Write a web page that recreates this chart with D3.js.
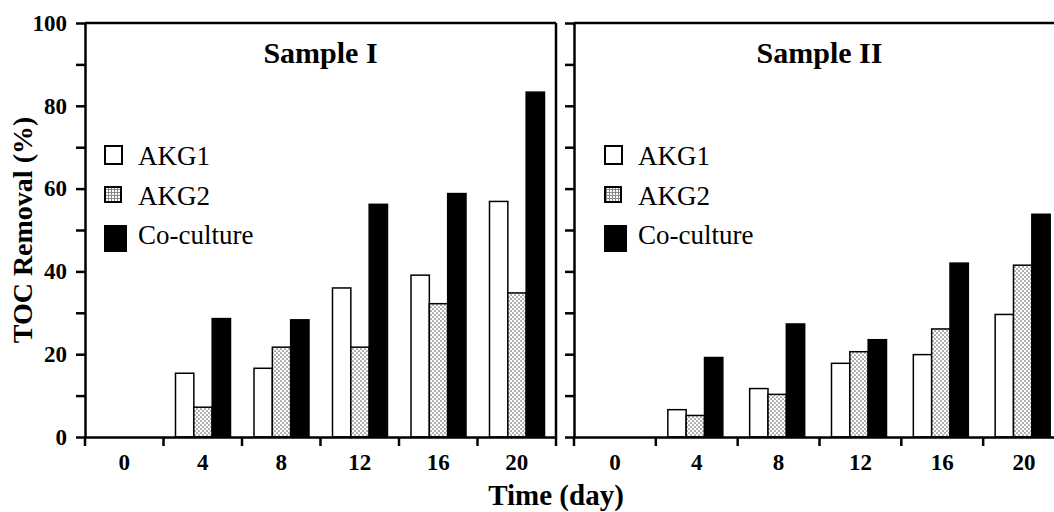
<!DOCTYPE html>
<html>
<head>
<meta charset="utf-8">
<script src="https://cdn.jsdelivr.net/npm/d3@7"></script>
<style>
  body { margin: 0; background: #fff; }
  svg { display: block; font-family: "Liberation Serif", "Times New Roman", serif; }
</style>
</head>
<body>
<script>
// values (TOC removal, %)
var days = ["0", "4", "8", "12", "16", "20"];
var seriesNames = ["AKG1", "AKG2", "Co-culture"];

var sample1Akg1 = [0, 15.4, 16.6, 36.0, 39.1, 56.9];
var sample1Akg2 = [0, 7.2, 21.7, 21.7, 32.2, 34.8];
var sample1Coculture = [0, 28.6, 28.3, 56.2, 58.8, 83.3];

var sample2Akg1 = [0, 6.6, 11.7, 17.8, 19.9, 29.6];
var sample2Akg2 = [0, 5.2, 10.3, 20.6, 26.1, 41.5];
var sample2Coculture = [0, 19.2, 27.3, 23.5, 42.0, 53.8];

var yTicks = [0, 10, 20, 30, 40, 50, 60, 70, 80, 90, 100];
var yLabelTicks = [0, 20, 40, 60, 80, 100];

var width = 1054;
var height = 512;
var serif = "'Liberation Serif', 'Times New Roman', serif";

var svg = d3.select("body")
  .append("svg")
  .attr("width", width)
  .attr("height", height);

var defs = svg.append("defs");

// dotted fill for the AKG2 bars
var dots = defs.append("pattern")
  .attr("id", "dots")
  .attr("width", 4)
  .attr("height", 4)
  .attr("patternUnits", "userSpaceOnUse");
dots.append("rect").attr("width", 4).attr("height", 4).attr("fill", "#fff");
dots.append("circle").attr("cx", 1).attr("cy", 1).attr("r", 0.85).attr("fill", "#666");
dots.append("circle").attr("cx", 3).attr("cy", 3).attr("r", 0.85).attr("fill", "#666");

// grid fill for the AKG2 legend box
var grid = defs.append("pattern")
  .attr("id", "grid")
  .attr("width", 3)
  .attr("height", 3)
  .attr("patternUnits", "userSpaceOnUse");
grid.append("rect").attr("width", 3).attr("height", 3).attr("fill", "#fff");
grid.append("path").attr("d", "M0,0.5H3M0.5,0V3").attr("stroke", "#888").attr("stroke-width", 1);

var fills = ["#fff", "url(#dots)", "#000"];
var legendFills = ["#fff", "url(#grid)", "#000"];

var yScale = d3.scaleLinear()
  .domain([0, 100])
  .range([437, 23]);

var panels = [
  {
    title: "Sample I",
    left: 85, right: 556,
    values: [sample1Akg1, sample1Akg2, sample1Coculture],
    legendX: 105,
    showLabels: true,
    frameRight: true
  },
  {
    title: "Sample II",
    left: 574, right: 1065,
    values: [sample2Akg1, sample2Akg2, sample2Coculture],
    legendX: 605,
    showLabels: false,
    frameRight: false
  }
];

// legend box geometry (they are not all the same size in the original)
var legendBoxes = [
  { y: 146, w: 17, h: 18, text: 165 },
  { y: 187, w: 16, h: 15, text: 205 },
  { y: 226, w: 21, h: 25, text: 244 }
];

panels.forEach(function(p) {
  var g = svg.append("g");

  var xScale = d3.scaleBand()
    .domain(days)
    .range([p.left, p.right]);

  var xInner = d3.scaleBand()
    .domain(seriesNames)
    .range([12, 67]);

  // bars
  p.values.forEach(function(vals, si) {
    g.append("g")
      .selectAll("rect")
      .data(vals)
      .enter()
      .append("rect")
      .attr("x", function(d, i) { return xScale(days[i]) + xInner(seriesNames[si]); })
      .attr("y", function(d) { return yScale(d); })
      .attr("width", xInner.bandwidth())
      .attr("height", function(d) { return yScale(0) - yScale(d); })
      .attr("fill", fills[si])
      .attr("stroke", "#000")
      .attr("stroke-width", d => d > 0 ? 1.5 : 0);
  });

  // frame
  g.append("line")
    .attr("x1", p.left).attr("x2", Math.min(p.right, width + 5))
    .attr("y1", yScale(100)).attr("y2", yScale(100))
    .attr("stroke", "#000").attr("stroke-width", 2.5);
  if (p.frameRight) {
    g.append("line")
      .attr("x1", p.right).attr("x2", p.right)
      .attr("y1", yScale(100)).attr("y2", yScale(0))
      .attr("stroke", "#000").attr("stroke-width", 2.5);
  }

  // y axis
  var yAxis = d3.axisLeft(yScale)
    .tickValues(yTicks)
    .tickSize(9)
    .tickSizeOuter(0)
    .tickPadding(9)
    .tickFormat(function(d) {
      return p.showLabels && yLabelTicks.indexOf(d) >= 0 ? d : "";
    });

  var yG = g.append("g")
    .attr("transform", "translate(" + p.left + ",0)")
    .call(yAxis);
  yG.select(".domain").attr("stroke-width", 2.5);
  yG.selectAll(".tick line").attr("stroke-width", 2.5);
  yG.selectAll("text")
    .attr("font-family", serif)
    .attr("font-weight", "bold")
    .attr("font-size", 23)
    .attr("fill", "#000");

  // x axis: labels at band centres, ticks on the band boundaries
  var xAxis = d3.axisBottom(xScale)
    .tickSize(0)
    .tickSizeOuter(0)
    .tickPadding(17);

  var xG = g.append("g")
    .attr("transform", "translate(0," + yScale(0) + ")")
    .call(xAxis);
  xG.select(".domain").attr("stroke-width", 2.5);
  xG.selectAll("text")
    .attr("font-family", serif)
    .attr("font-weight", "bold")
    .attr("font-size", 23)
    .attr("fill", "#000");

  var bounds = days.map(function(d) { return xScale(d); }).concat([p.right]);
  xG.selectAll(".bound")
    .data(bounds)
    .enter()
    .append("line")
    .attr("class", "bound")
    .attr("x1", d => d).attr("x2", d => d)
    .attr("y1", 0).attr("y2", 9)
    .attr("stroke", "#000")
    .attr("stroke-width", 2.5);

  // panel title
  g.append("text")
    .attr("x", (p.left + p.right) / 2)
    .attr("y", 63)
    .attr("text-anchor", "middle")
    .attr("font-family", serif)
    .attr("font-weight", "bold")
    .attr("font-size", 30)
    .text(p.title);

  // legend
  var leg = g.append("g");
  seriesNames.forEach(function(name, si) {
    var b = legendBoxes[si];
    leg.append("rect")
      .attr("x", p.legendX)
      .attr("y", b.y)
      .attr("width", b.w)
      .attr("height", b.h)
      .attr("fill", legendFills[si])
      .attr("stroke", "#000")
      .attr("stroke-width", 2);
    leg.append("text")
      .attr("x", p.legendX + 33)
      .attr("y", b.text)
      .attr("font-family", serif)
      .attr("font-size", 27)
      .text(name);
  });
});

// axis titles
svg.append("text")
  .attr("x", 556)
  .attr("y", 505)
  .attr("text-anchor", "middle")
  .attr("font-family", serif)
  .attr("font-weight", "bold")
  .attr("font-size", 29)
  .text("Time (day)");

svg.append("text")
  .attr("transform", "translate(32,230) rotate(-90)")
  .attr("text-anchor", "middle")
  .attr("font-family", serif)
  .attr("font-weight", "bold")
  .attr("font-size", 28)
  .text("TOC Removal (%)");
</script>
</body>
</html>
